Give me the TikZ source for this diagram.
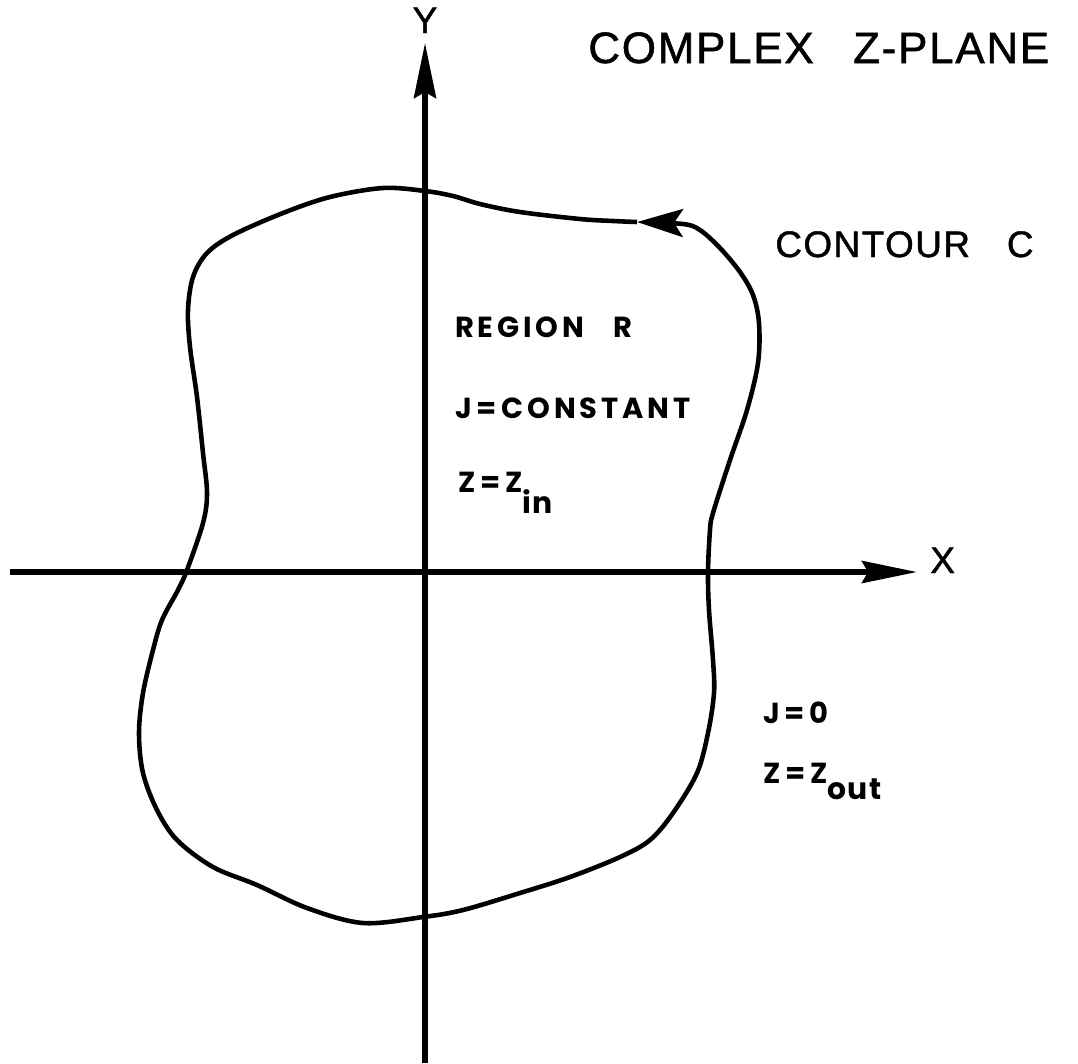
\documentclass[tikz,border=0pt]{standalone}
\usepackage{fontspec}
\setmainfont{Liberation Sans}
\newfontfamily\leroyfont[FakeBold=1.2, LetterSpace=4]{Liberation Sans}
\newfontfamily\stencilfont[LetterSpace=13]{Poppins}
\usetikzlibrary{arrows.meta}

\begin{document}
\begin{tikzpicture}[
		x=0.02cm, y=-0.02cm,
		axisLine/.style={line width=3.2pt, -{Stealth[length=1.1cm, width=0.44cm, inset=0.12cm]}},
		contourLine/.style={line width=2.6pt, line join=round, -{Stealth[length=0.92cm, width=0.56cm, inset=0.18cm]}},
		handLabel/.style={font=\leroyfont\fontsize{21}{25}\selectfont, inner sep=0pt},
		titleLabel/.style={handLabel, font=\leroyfont\fontsize{25}{30}\selectfont},
		boldLabel/.style={font=\stencilfont\bfseries\fontsize{16.5}{20}\selectfont, inner sep=0pt, anchor=base west}
		]
		\useasboundingbox (0,0) rectangle (1078,1063);

		% Achsen
		\coordinate (xstart) at (10,572);
		\coordinate (xend) at (917,572);
		\coordinate (ystart) at (425,1063);
		\coordinate (yend) at (425,43);
		\draw[axisLine] (xstart) -- (xend);
		\draw[axisLine] (ystart) -- (yend);

		% Kontur C
		\draw[contourLine] plot[smooth, tension=0.55] coordinates {
			(637,222) (613,221) (580,219) (520,212) (480,204) (453,196) (425,191)
			(383,188) (330,197) (283,213) (233,235) (207,253) (193,277) (188,310)
			(190,347) (197,397) (203,453) (207,493) (203,523) (187,570) (178,590)
			(162,620) (153,650) (143,693) (139,733) (143,773) (157,810) (177,840)
			(213,867) (257,885) (307,908) (363,923) (423,917) (463,910) (520,893)
			(570,877) (620,857) (650,840) (673,813) (697,773) (708,733) (714,693)
			(713,660) (709,610) (708,572) (710,530) (713,513) (730,460) (747,410)
			(758,363) (759,323) (753,295) (740,272) (720,248) (700,230) (683,224) (637,222)};

		% Beschriftungen
		\node[titleLabel, anchor=base west] (title) at (588,63) {COMPLEX\hspace{0.9em}Z-PLANE};
		\node[handLabel, anchor=base] (ylabel) at (425,33) {Y};
		\node[handLabel, anchor=base west] (xlabel) at (930,573) {X};
		\node[handLabel, anchor=base west] (contourC) at (775,257) {CONTOUR\hspace{1em}C};

		\node[boldLabel] (region) at (455,337) {REGION\hspace{1em}R};
		\node[boldLabel] (jconst) at (455,418) {J\,=\,CONSTANT};
		\node[boldLabel] (zin) at (458,492) {Z\,=\,Z\raisebox{-12pt}{\addfontfeature{LetterSpace=4}\fontsize{17}{20}\selectfont in}};
		\node[boldLabel] (jzero) at (763,723) {J\,=\,0};
		\node[boldLabel] (zout) at (763,783) {Z\,=\,Z\raisebox{-9.5pt}{\addfontfeature{LetterSpace=4}\fontsize{17}{20}\selectfont out}};

	\end{tikzpicture}
\end{document}
